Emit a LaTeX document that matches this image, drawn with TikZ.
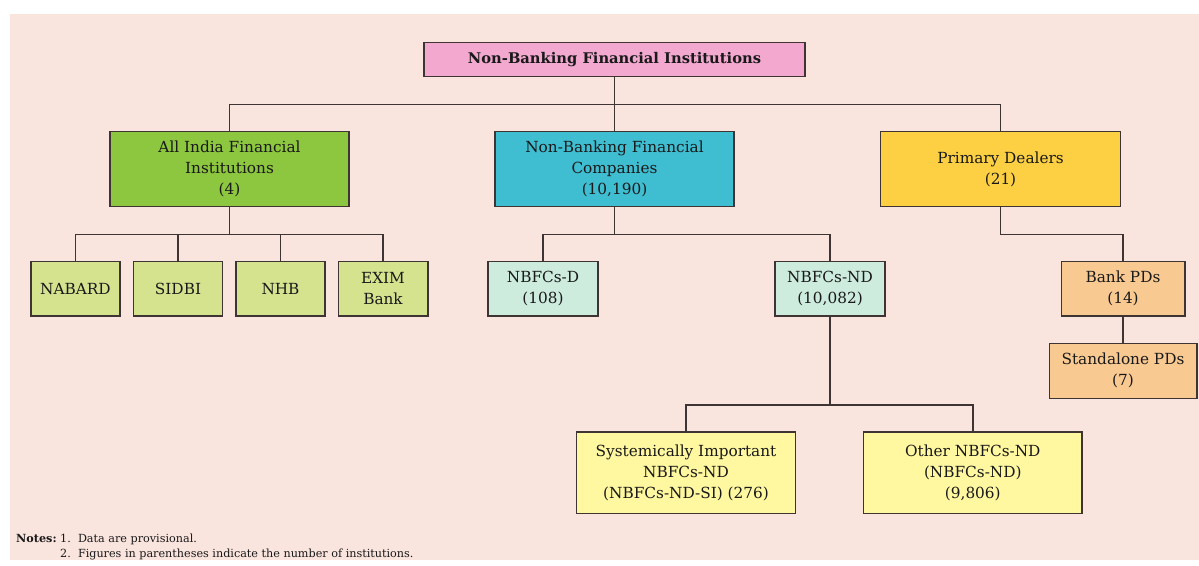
\documentclass[tikz,border=0pt]{standalone}
\usepackage{fontspec}
\setmainfont{DejaVu Serif}
\definecolor{bgc}{RGB}{250,228,222}
\definecolor{rootc}{RGB}{243,168,207}
\definecolor{aific}{RGB}{141,198,63}
\definecolor{leafg}{RGB}{213,226,142}
\definecolor{nbfcc}{RGB}{63,190,210}
\definecolor{mint}{RGB}{205,236,222}
\definecolor{pdc}{RGB}{253,208,67}
\definecolor{orng}{RGB}{249,201,146}
\definecolor{lyel}{RGB}{255,248,160}
\definecolor{linec}{RGB}{62,52,52}
\tikzset{
  box/.style={draw=linec, line width=1.5pt, align=center, inner sep=0pt,
    font=\fontsize{15.3}{21}\selectfont, text=black!90},
  conn/.style={draw=linec, line width=1.5pt}
}
\begin{document}
\begin{tikzpicture}[x=1pt,y=-1pt]
\useasboundingbox (0,0) rectangle (1199,565);
\fill[bgc] (10,14) rectangle (1199,560);
% level 0
\node[box, fill=rootc, minimum width=381pt, minimum height=34.4pt, font=\bfseries\fontsize{14.7}{21}\selectfont] (root) at (614.5,59.5) {Non-Banking Financial Institutions};
% level 1
\node[box, fill=aific, minimum width=239pt, minimum height=75pt] (aifi) at (229.5,169.2) {All India Financial\\Institutions\\(4)};
\node[box, fill=nbfcc, minimum width=239pt, minimum height=75pt] (nbfc) at (614.5,169.2) {Non-Banking Financial\\Companies\\(10,190)};
\node[box, fill=pdc, minimum width=240pt, minimum height=75pt] (pd) at (1000.5,169.2) {Primary Dealers\\(21)};
% level 2
\node[box, fill=leafg, minimum width=89pt, minimum height=54.3pt] (nabard) at (75.5,288.8) {NABARD};
\node[box, fill=leafg, minimum width=89pt, minimum height=54.3pt] (sidbi) at (178,288.8) {SIDBI};
\node[box, fill=leafg, minimum width=89pt, minimum height=54.3pt] (nhb) at (280.5,288.8) {NHB};
\node[box, fill=leafg, minimum width=89.5pt, minimum height=54.3pt] (exim) at (383,288.8) {EXIM\\Bank};
\node[box, fill=mint, minimum width=110pt, minimum height=54.3pt] (nbfcd) at (543,288.8) {NBFCs-D\\(108)};
\node[box, fill=mint, minimum width=110pt, minimum height=54.3pt] (nbfcnd) at (830,288.8) {NBFCs-ND\\(10,082)};
\node[box, fill=orng, minimum width=123.5pt, minimum height=54.3pt] (bank) at (1123,288.8) {Bank PDs\\(14)};
\node[box, fill=orng, minimum width=147.5pt, minimum height=55pt] (stand) at (1123,370.8) {Standalone PDs\\(7)};
% level 3
\node[box, fill=lyel, minimum width=219pt, minimum height=81.3pt] (si) at (686,472.7) {Systemically Important\\NBFCs-ND\\(NBFCs-ND-SI) (276)};
\node[box, fill=lyel, minimum width=218.4pt, minimum height=81.3pt] (other) at (972.8,472.7) {Other NBFCs-ND\\(NBFCs-ND)\\(9,806)};
% connectors
\coordinate (b1) at (614.5,104.3);
\draw[conn] (root.south) -- (nbfc.north);
\draw[conn] (aifi.north) |- (b1) -| (pd.north);
\coordinate (b2) at (229.5,234.3);
\draw[conn] (aifi.south) -- (b2);
\draw[conn] (nabard.north) |- (b2) -| (exim.north);
\draw[conn] (sidbi.north) |- (b2);
\draw[conn] (nhb.north) |- (b2);
\coordinate (b3) at (614.5,234.3);
\draw[conn] (nbfc.south) -- (b3);
\draw[conn] (nbfcd.north) |- (b3) -| (nbfcnd.north);
\coordinate (b4) at (1000.5,234.3);
\draw[conn] (pd.south) -- (b4) -| (bank.north);
\draw[conn] (bank.south) -- (stand.north);
\coordinate (b5) at (830,405);
\draw[conn] (nbfcnd.south) -- (b5);
\draw[conn] (si.north) |- (b5) -| (other.north);
% notes
\node[anchor=north west, inner sep=0pt, font=\fontsize{11.2}{15}\selectfont, text=black!90] (notes) at (16,532)
{\begin{tabular}{@{}l@{\ }l@{\ \ }l@{}}
\textbf{Notes:} & 1. & Data are provisional.\\
 & 2. & Figures in parentheses indicate the number of institutions.
\end{tabular}};
\end{tikzpicture}
\end{document}
